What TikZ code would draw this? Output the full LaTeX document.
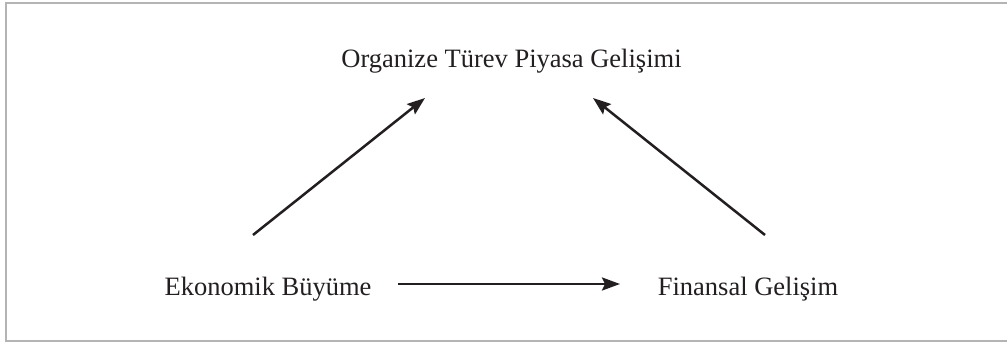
\documentclass[tikz,border=0pt]{standalone}
\usepackage{fontspec}
\setmainfont{Liberation Serif}
\usetikzlibrary{arrows.meta}
\definecolor{ink}{HTML}{231F20}
\definecolor{frame}{HTML}{B4B4B4}
\tikzset{
  lbl/.style={anchor=base, inner sep=0pt, text=ink, font=\fontsize{26.5}{30}\selectfont},
  conn/.style={draw=ink, line width=2.5pt, -{Stealth[length=18pt,width=13pt,inset=3pt]}},
}
\begin{document}
\begin{tikzpicture}[x=1pt,y=1pt]
\useasboundingbox (0,0) rectangle (1007,343);
\draw[frame, line width=1.6pt] (6,2) rectangle (1012,340);
\node[lbl] (top) at (511.5,275) {Organize Türev Piyasa Gelişimi};
\node[lbl] (eb) at (268,48) {Ekonomik Büyüme};
\node[lbl] (fg) at (748,48) {Finansal Gelişim};
\coordinate (a1s) at (253,108);
\coordinate (a1e) at (425,245);
\coordinate (a2s) at (765,108);
\coordinate (a2e) at (593,245);
\coordinate (a3s) at (398,59);
\coordinate (a3e) at (620,59);
\draw[conn] (a1s) -- (a1e);
\draw[conn] (a2s) -- (a2e);
\draw[conn] (a3s) -- (a3e);
\end{tikzpicture}
\end{document}
